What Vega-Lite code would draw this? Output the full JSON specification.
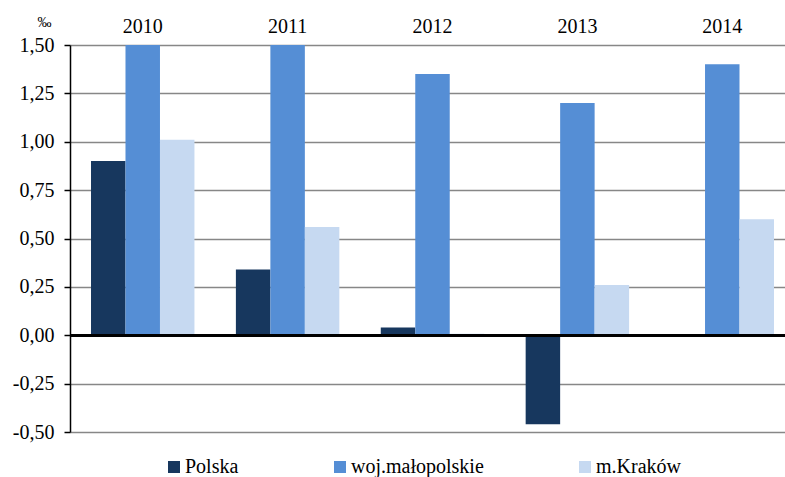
{
  "$schema": "https://vega.github.io/schema/vega-lite/v6.json",
  "width": 725,
  "height": 387,
  "autosize": {"type": "none"},
  "padding": {"left": 70, "top": 45, "right": 0, "bottom": 45},
  "background": "white",
  "config": {
    "font": "Liberation Serif",
    "view": {"stroke": null}
  },
  "data": {
    "values": [
      {"year": "2010", "series": "Polska", "value": 0.90},
      {"year": "2010", "series": "woj.małopolskie", "value": 1.50},
      {"year": "2010", "series": "m.Kraków", "value": 1.01},
      {"year": "2011", "series": "Polska", "value": 0.34},
      {"year": "2011", "series": "woj.małopolskie", "value": 1.50},
      {"year": "2011", "series": "m.Kraków", "value": 0.56},
      {"year": "2012", "series": "Polska", "value": 0.04},
      {"year": "2012", "series": "woj.małopolskie", "value": 1.35},
      {"year": "2012", "series": "m.Kraków", "value": 0.008},
      {"year": "2013", "series": "Polska", "value": -0.46},
      {"year": "2013", "series": "woj.małopolskie", "value": 1.20},
      {"year": "2013", "series": "m.Kraków", "value": 0.26},
      {"year": "2014", "series": "Polska", "value": 0.0},
      {"year": "2014", "series": "woj.małopolskie", "value": 1.40},
      {"year": "2014", "series": "m.Kraków", "value": 0.60}
    ]
  },
  "layer": [
    {
      "mark": {"type": "bar"},
      "encoding": {
        "x": {
          "field": "year",
          "type": "nominal",
          "scale": {"paddingInner": 0.286, "paddingOuter": 0.145},
          "axis": {
            "orient": "top",
            "title": null,
            "labelAngle": 0,
            "domain": false,
            "ticks": false,
            "labelFontSize": 20,
            "labelColor": "black",
            "labelBaseline": "alphabetic",
            "labelPadding": 13
          }
        },
        "xOffset": {
          "field": "series",
          "type": "nominal",
          "sort": ["Polska", "woj.małopolskie", "m.Kraków"],
          "scale": {"paddingInner": 0, "paddingOuter": 0}
        },
        "y": {
          "field": "value",
          "type": "quantitative",
          "scale": {"domain": [-0.5, 1.5], "nice": false, "zero": false},
          "axis": {
            "values": [-0.5, -0.25, 0, 0.25, 0.5, 0.75, 1, 1.25, 1.5],
            "labelExpr": "(datum.value < 0 ? '-' : '') + replace(format(abs(datum.value), '.2f'), '.', ',')",
            "title": "‰",
            "titleAngle": 0,
            "titleAlign": "left",
            "titleBaseline": "alphabetic",
            "titleX": -33,
            "titleY": -19,
            "titleFontSize": 14,
            "titleFontWeight": "normal",
            "titleColor": "black",
            "labelFontSize": 20,
            "labelColor": "black",
            "labelPadding": 10,
            "domainColor": "black",
            "domainWidth": 1.5,
            "tickColor": "black",
            "tickWidth": 1.5,
            "tickSize": 6,
            "grid": true,
            "gridColor": "#878787",
            "gridWidth": 1.5
          }
        },
        "color": {
          "field": "series",
          "type": "nominal",
          "sort": ["Polska", "woj.małopolskie", "m.Kraków"],
          "scale": {
            "domain": ["Polska", "woj.małopolskie", "m.Kraków"],
            "range": ["#17375E", "#558ED5", "#C6D9F1"]
          },
          "legend": {
            "title": null,
            "orient": "none",
            "legendX": 94,
            "legendY": 412,
            "direction": "horizontal",
            "symbolType": "square",
            "symbolSize": 144,
            "symbolStrokeWidth": 0,
            "symbolOffset": 0,
            "labelOffset": 1,
            "labelFontSize": 20,
            "labelColor": "black",
            "columnPadding": 91
          }
        }
      }
    },
    {
      "mark": {"type": "rule", "color": "black", "strokeWidth": 2.5},
      "encoding": {"y": {"datum": 0}}
    }
  ]
}
